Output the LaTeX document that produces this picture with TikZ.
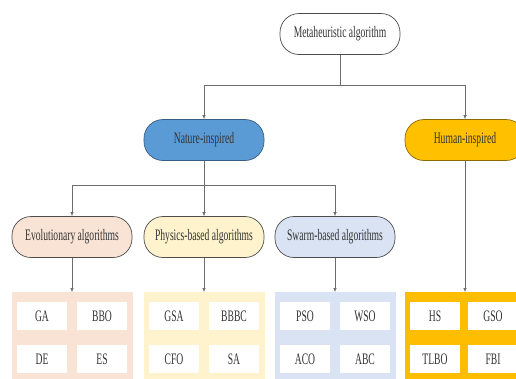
\documentclass[tikz,border=0pt]{standalone}
\usepackage{fontspec}
\setmainfont{Liberation Serif}
\newfontfamily\narrowserif{Liberation Serif}[FakeStretch=0.6]
\usepackage{tikz}
\usetikzlibrary{arrows.meta}

\definecolor{natblue}{HTML}{5B9BD5}
\definecolor{humgold}{HTML}{FFC000}
\definecolor{evopeach}{HTML}{F8E3D5}
\definecolor{phyyellow}{HTML}{FEF3CC}
\definecolor{swablue}{HTML}{DAE3F3}
\definecolor{txtgray}{HTML}{333333}

\begin{document}
\begin{tikzpicture}[x=1pt, y=-1pt,
        every node/.style={font=\narrowserif\fontsize{16}{18}\selectfont, text=txtgray},
        catbox/.style={rectangle, rounded corners=19pt, minimum width=120pt, minimum height=41pt, draw=gray!60!black, line width=0.7pt},
        grpbox/.style={rectangle, minimum width=121pt, minimum height=100pt, anchor=north},
        algbox/.style={rectangle, fill=white, minimum width=50pt, minimum height=28pt},
        link/.style={draw=gray!85!black, line width=0.6pt},
        arr/.style={link, -{Latex[length=4pt,width=3.5pt]}}]
    \useasboundingbox (0,0) rectangle (516,378);
    \clip (0,0) rectangle (516,378);
        % top levels
        \node[catbox, fill=white] (meta) at (340,34) {Metaheuristic algorithm};
        \node[catbox, fill=natblue, draw=natblue!60!black] (nature) at (204,140) {Nature-inspired};
        \node[catbox, fill=humgold, draw=humgold!55!black] (human) at (465,140) {Human-inspired};
        \node[catbox, fill=evopeach] (evol) at (72,237) {Evolutionary algorithms};
        \node[catbox, fill=phyyellow] (phys) at (204,237) {Physics-based algorithms};
        \node[catbox, fill=swablue] (swarm) at (335,237) {Swarm-based algorithms};
        \coordinate (split1) at (340,85);
        \coordinate (split2) at (204,185);
        % groups of algorithms
        \node[grpbox, fill=evopeach] (evolgrp) at (72,292) {};
        \node[grpbox, fill=phyyellow] (physgrp) at (204,292) {};
        \node[grpbox, fill=swablue] (swarmgrp) at (335,292) {};
        \node[grpbox, fill=humgold!95!orange] (humangrp) at (465,292) {};
        \node[algbox] (ga) at (42,316) {GA};
        \node[algbox] (bbo) at (102,316) {BBO};
        \node[algbox] (de) at (42,359) {DE};
        \node[algbox] (es) at (102,359) {ES};
        \node[algbox] (gsa) at (174,316) {GSA};
        \node[algbox] (bbbc) at (234,316) {BBBC};
        \node[algbox] (cfo) at (174,359) {CFO};
        \node[algbox] (sa) at (234,359) {SA};
        \node[algbox] (pso) at (305,316) {PSO};
        \node[algbox] (wso) at (365,316) {WSO};
        \node[algbox] (aco) at (305,359) {ACO};
        \node[algbox] (abc) at (365,359) {ABC};
        \node[algbox] (hs) at (435,316) {HS};
        \node[algbox] (gso) at (493,316) {GSO};
        \node[algbox] (tlbo) at (435,359) {TLBO};
        \node[algbox] (fbi) at (493,359) {FBI};
        % connectors
        \draw[link] (meta) -- (split1);
        \draw[arr] (split1) -| (nature);
        \draw[arr] (split1) -| (human);
        \draw[link] (nature) -- (split2);
        \draw[arr] (split2) -| (evol);
        \draw[arr] (split2) -- (phys);
        \draw[arr] (split2) -| (swarm);
        \draw[arr] (evol) -- (evolgrp);
        \draw[arr] (phys) -- (physgrp);
        \draw[arr] (swarm) -- (swarmgrp);
        \draw[arr] (human) -- (humangrp);
\end{tikzpicture}
\end{document}
